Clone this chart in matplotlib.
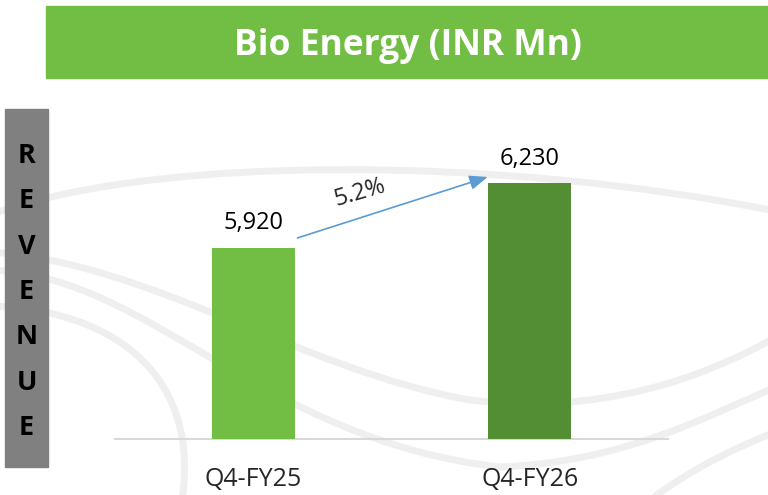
import matplotlib
matplotlib.use("Agg")
import matplotlib.pyplot as plt
from matplotlib.patches import Rectangle, PathPatch
from matplotlib.path import Path

plt.rcParams['font.family'] = ['Open Sans', 'DejaVu Sans']

# data
categories = ['Q4-FY25', 'Q4-FY26']
revenue = [5920, 6230]
bar_colors = ['#72BE44', '#548E34']
title = 'Bio Energy (INR Mn)'
side_label = 'REVENUE'

growth = (revenue[1] - revenue[0]) / revenue[0] * 100

# faint background swirls (pixel coords of the slide, decoration only)
swirls = [
    [(-10, 215), (150, 155), (500, 155), (780, 212)],
    [(-10, 252), (150, 262), (300, 370), (470, 400), (600, 415), (700, 380), (780, 335)],
    [(-10, 270), (150, 275), (260, 440), (500, 467), (620, 462), (700, 420), (780, 385)],
    [(-10, 306), (120, 310), (200, 380), (182, 500)],
    [(650, 500), (690, 470), (730, 450), (780, 430)],
]

fig = plt.figure(figsize=(7.68, 4.95), dpi=100)

bg = fig.add_axes([0, 0, 1, 1], zorder=0)
bg.set_xlim(0, 768)
bg.set_ylim(495, 0)
bg.axis('off')
for pts in swirls:
    codes = [Path.MOVETO] + [Path.CURVE4] * (len(pts) - 1)
    bg.add_patch(PathPatch(Path(pts, codes), fc='none', ec='#EFEFEF', lw=5, capstyle='round'))

# title banner
fig.patches.append(Rectangle((0.06, 0.8424), 0.94, 0.1455, transform=fig.transFigure,
                             color='#72BE44', zorder=1))
fig.text(0.531, 0.907, title, color='white', fontsize=25.5, fontweight='bold',
         ha='center', va='center', zorder=2)

# vertical REVENUE box
fig.patches.append(Rectangle((0.0065, 0.0566), 0.056, 0.7232, transform=fig.transFigure,
                             color='#808080', zorder=1))
for i, ch in enumerate(side_label):
    y_px = 156 + i * 45.3
    fig.text(0.0345, 1 - y_px / 495, ch, fontsize=19.5, fontweight='bold', color='black',
             ha='center', va='center', zorder=2)

ax = fig.add_axes([0.1497, 0.1131, 0.7201, 0.6728], zorder=3)
ax.patch.set_alpha(0)
x = list(range(len(categories)))
width = 0.3
bars = ax.bar(x, revenue, width=width, color=bar_colors, zorder=3)
ax.set_xlim(-0.5, 1.5)
ax.set_ylim(5000, 6600)

for spine in ['top', 'right', 'left']:
    ax.spines[spine].set_visible(False)
ax.spines['bottom'].set_color('#D9D9D9')
ax.spines['bottom'].set_linewidth(1.5)
ax.set_yticks([])
ax.set_xticks(x)
ax.set_xticklabels(categories, fontsize=18, color='#262626')
ax.tick_params(axis='x', length=0, pad=20)

for xi, v in zip(x, revenue):
    ax.annotate(f'{v:,}', (xi, v), xytext=(0, 13), textcoords='offset points',
                ha='center', va='baseline', fontsize=17, color='black')

# growth arrow
x0, y0 = x[0] + width / 2 + 0.01, revenue[0] + 46
x1, y1 = x[1] - width / 2 - 0.002, revenue[1] + 29
ax.annotate('', xy=(x1, y1), xytext=(x0, y0),
            arrowprops=dict(arrowstyle='-|>,head_length=0.55,head_width=0.22',
                            color='#5B9BD5', lw=1.2, mutation_scale=20,
                            shrinkA=0, shrinkB=0))
ax.text(0.386, 6182, f'{growth:.1f}%', fontsize=17, rotation=16.5,
        ha='center', va='center', color='#262626', rotation_mode='anchor')

fig.savefig('out.png', dpi=100)
